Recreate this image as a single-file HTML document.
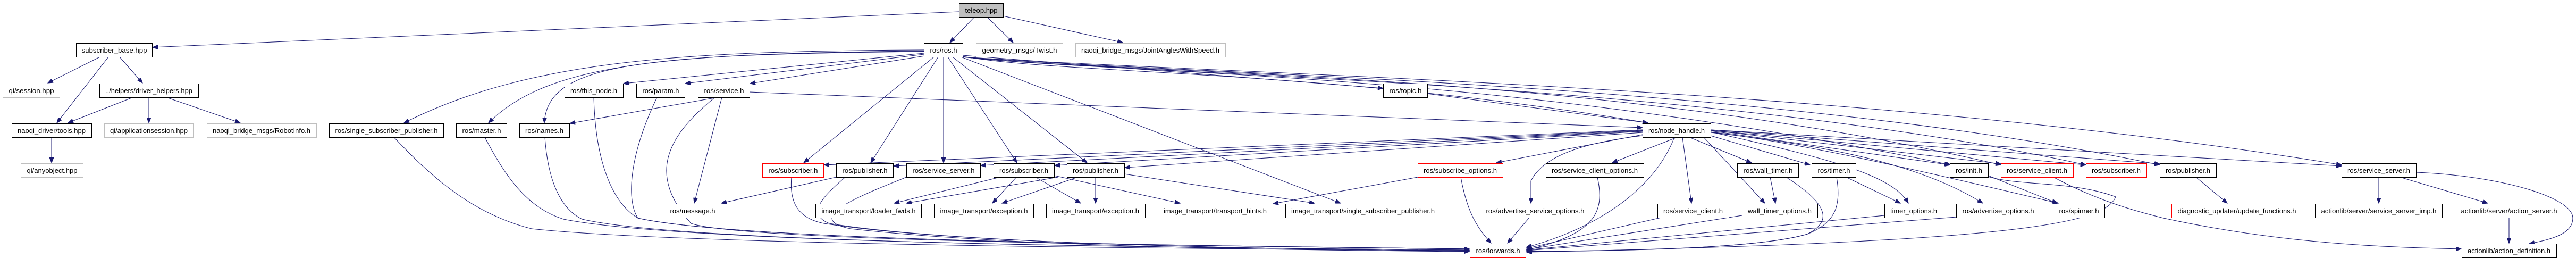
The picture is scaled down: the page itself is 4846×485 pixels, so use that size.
<!DOCTYPE html>
<html><head><meta charset="utf-8"><style>
html,body{margin:0;padding:0;background:#fff;width:4846px;height:485px;overflow:hidden}
svg{display:block}
text{font-family:"Liberation Sans",Helvetica,sans-serif;font-size:13px;fill:#000}
.n rect{fill:#fff;stroke:#000;stroke-width:1}
.g rect{fill:#fff;stroke:#bfbfbf;stroke-width:1}
.r rect{fill:#fff;stroke:#ff0000;stroke-width:1}
.e path{fill:none;stroke:#191970;stroke-width:1;marker-end:url(#a)}
</style></head><body>
<svg width="4846" height="485" viewBox="0 0 4846 485" xmlns="http://www.w3.org/2000/svg">
<defs><marker id="a" markerUnits="userSpaceOnUse" markerWidth="11" markerHeight="8" refX="10" refY="4" orient="auto"><path d="M0,0 L10,4 L0,8 z" fill="#191970" stroke="#191970"/></marker></defs>
<g class="e">
<path d="M1804,22 L287,89"/>
<path d="M1833,32 L1787,80"/>
<path d="M1857,32 L1906,80"/>
<path d="M1887,30 L2112,80"/>
<path d="M188,107 L90,156"/>
<path d="M204,107 L107,231"/>
<path d="M225,107 L268,156"/>
<path d="M250,183 L128,231"/>
<path d="M280,183 L280,231"/>
<path d="M313,183 L452,231"/>
<path d="M97,258 L97,306"/>
<path d="M1738,94 C1300,96 1000,110 760,231"/>
<path d="M1738,96 C1250,100 1030,120 919,231"/>
<path d="M1738,97 C1200,102 1030,120 1024,231"/>
<path d="M1738,100 L1173,157"/>
<path d="M1738,102 L1289,157"/>
<path d="M1740,105 L1411,157"/>
<path d="M1757,107 L1512,306"/>
<path d="M1765,107 L1638,306"/>
<path d="M1775,107 L1775,306"/>
<path d="M1783,107 L1913,306"/>
<path d="M1792,107 L2045,306"/>
<path d="M1808,107 L2522,382"/>
<path d="M1811,104 L2602,166"/>
<path d="M1811,106 C2000,140 2500,130 3100,231"/>
<path d="M1811,107 C2100,140 2800,130 3670,310"/>
<path d="M1811,107 C2100,140 3000,130 3764,310"/>
<path d="M1811,107 C2100,140 3200,150 3924,310"/>
<path d="M1811,107 C2200,140 3300,150 4063,310"/>
<path d="M1811,107 C2300,140 3500,160 4405,310"/>
<path d="M1410,173 L3090,240"/>
<path d="M1350,183 L1072,232"/>
<path d="M1358,183 L1306,382"/>
<path d="M1345,183 C1250,260 1220,330 1300,420 C1400,455 2300,462 2764,468"/>
<path d="M1117,183 C1120,300 1150,380 1200,410 C1400,455 2300,462 2764,468"/>
<path d="M1236,183 C1180,300 1180,380 1200,410 C1400,455 2300,462 2764,468"/>
<path d="M912,258 C950,330 990,390 1060,412 C1300,460 2300,466 2764,470"/>
<path d="M1025,258 C1030,330 1050,390 1095,412 C1300,460 2300,466 2764,470"/>
<path d="M741,258 C800,320 880,400 1000,430 C1300,462 2300,468 2764,471"/>
<path d="M1489,333 C1485,380 1500,410 1550,420 C1800,460 2400,468 2764,472"/>
<path d="M1590,333 C1560,360 1510,400 1560,420 C1800,460 2400,468 2764,472"/>
<path d="M1705,333 C1640,360 1500,410 1600,430 C1900,464 2400,470 2764,473"/>
<path d="M1573,333 L1357,382"/>
<path d="M1881,333 L1682,382"/>
<path d="M1912,333 L1867,382"/>
<path d="M1948,333 L2033,382"/>
<path d="M1983,330 L2220,382"/>
<path d="M1990,333 L1705,382"/>
<path d="M2027,333 L1885,382"/>
<path d="M2061,333 L2061,382"/>
<path d="M2115,327 L2473,382"/>
<path d="M2685,176 L3100,231"/>
<path d="M3090,253 L2815,306"/>
<path d="M3155,258 L3033,306"/>
<path d="M3090,255 C2960,270 2900,300 2880,340 L2880,382"/>
<path d="M3165,258 L3182,382"/>
<path d="M3150,258 C3110,360 3000,430 2871,465"/>
<path d="M3090,244 L1550,310"/>
<path d="M3090,245 L1681,312"/>
<path d="M3090,246 L1845,311"/>
<path d="M3090,247 L1984,311"/>
<path d="M3090,249 L2116,315"/>
<path d="M2667,333 L2395,383"/>
<path d="M2748,333 C2760,400 2780,430 2805,457"/>
<path d="M2877,409 L2836,457"/>
<path d="M3005,333 C3020,400 3000,440 2872,470"/>
<path d="M3125,409 L2872,467"/>
<path d="M3178,258 L3295,306"/>
<path d="M3205,258 L3320,382"/>
<path d="M3218,255 L3405,310"/>
<path d="M3218,248 C3450,300 3560,330 3590,382"/>
<path d="M3218,249 C3400,270 3600,300 3730,382"/>
<path d="M3218,248 C3400,270 3650,330 3872,382"/>
<path d="M3218,246 L3668,310"/>
<path d="M3218,245 L3764,308"/>
<path d="M3218,245 L3924,310"/>
<path d="M3218,244 L4063,308"/>
<path d="M3218,244 L4405,312"/>
<path d="M3330,333 L3340,382"/>
<path d="M3360,333 C3450,390 3440,420 3400,440 C3300,470 3000,472 2872,472"/>
<path d="M3455,333 C3465,390 3450,420 3400,440 C3300,470 3000,472 2872,473"/>
<path d="M3473,333 L3575,382"/>
<path d="M3277,405 L2872,469"/>
<path d="M3545,405 L2872,470"/>
<path d="M3680,408 L2872,471"/>
<path d="M3740,330 L3870,382"/>
<path d="M3740,332 C3800,350 3900,340 3980,370 C3960,420 3800,455 2872,474"/>
<path d="M3863,333 C3950,380 4030,400 4070,410 C4300,460 4500,465 4630,468"/>
<path d="M4131,333 L4190,382"/>
<path d="M4475,333 L4475,382"/>
<path d="M4515,333 L4680,382"/>
<path d="M4545,324 C4700,330 4840,370 4840,410 C4840,440 4800,450 4758,458"/>
<path d="M4720,409 L4720,457"/>
</g>
<g class="n"><rect x="143.5" y="81.5" width="143" height="26"/><text x="215" y="99" text-anchor="middle" textLength="123" lengthAdjust="spacingAndGlyphs">subscriber_base.hpp</text></g>
<g class="g"><rect x="5.5" y="157.5" width="107" height="26"/><text x="59" y="175" text-anchor="middle" textLength="85" lengthAdjust="spacingAndGlyphs">qi/session.hpp</text></g>
<g class="n"><rect x="187.5" y="157.5" width="186" height="26"/><text x="280" y="175" text-anchor="middle" textLength="164" lengthAdjust="spacingAndGlyphs">../helpers/driver_helpers.hpp</text></g>
<g class="n"><rect x="22.5" y="232.5" width="150" height="26"/><text x="97" y="250" text-anchor="middle" textLength="128" lengthAdjust="spacingAndGlyphs">naoqi_driver/tools.hpp</text></g>
<g class="g"><rect x="196.5" y="232.5" width="168" height="26"/><text x="280" y="250" text-anchor="middle" textLength="146" lengthAdjust="spacingAndGlyphs">qi/applicationsession.hpp</text></g>
<g class="g"><rect x="389.5" y="232.5" width="206" height="26"/><text x="492" y="250" text-anchor="middle" textLength="184" lengthAdjust="spacingAndGlyphs">naoqi_bridge_msgs/RobotInfo.h</text></g>
<g class="n"><rect x="619.5" y="232.5" width="215" height="26"/><text x="727" y="250" text-anchor="middle" textLength="193" lengthAdjust="spacingAndGlyphs">ros/single_subscriber_publisher.h</text></g>
<g class="g"><rect x="39.5" y="307.5" width="117" height="26"/><text x="98" y="325" text-anchor="middle" textLength="95" lengthAdjust="spacingAndGlyphs">qi/anyobject.hpp</text></g>
<g class="n"><rect x="1062.5" y="157.5" width="110" height="26"/><text x="1117" y="175" text-anchor="middle" textLength="88" lengthAdjust="spacingAndGlyphs">ros/this_node.h</text></g>
<g class="n"><rect x="1197.5" y="157.5" width="91" height="26"/><text x="1243" y="175" text-anchor="middle" textLength="69" lengthAdjust="spacingAndGlyphs">ros/param.h</text></g>
<g class="n"><rect x="1313.5" y="157.5" width="97" height="26"/><text x="1362" y="175" text-anchor="middle" textLength="75" lengthAdjust="spacingAndGlyphs">ros/service.h</text></g>
<g class="n"><rect x="858.5" y="232.5" width="95" height="26"/><text x="906" y="250" text-anchor="middle" textLength="73" lengthAdjust="spacingAndGlyphs">ros/master.h</text></g>
<g class="n"><rect x="977.5" y="232.5" width="94" height="26"/><text x="1024" y="250" text-anchor="middle" textLength="72" lengthAdjust="spacingAndGlyphs">ros/names.h</text></g>
<g class="r"><rect x="1434.5" y="307.5" width="115" height="26"/><text x="1492" y="325" text-anchor="middle" textLength="93" lengthAdjust="spacingAndGlyphs">ros/subscriber.h</text></g>
<g class="n"><rect x="1573.5" y="307.5" width="107" height="26"/><text x="1627" y="325" text-anchor="middle" textLength="85" lengthAdjust="spacingAndGlyphs">ros/publisher.h</text></g>
<g class="n"><rect x="1249.5" y="383.5" width="107" height="26"/><text x="1303" y="401" text-anchor="middle" textLength="85" lengthAdjust="spacingAndGlyphs">ros/message.h</text></g>
<g class="n"><rect x="1534.5" y="383.5" width="199" height="26"/><text x="1634" y="401" text-anchor="middle" textLength="177" lengthAdjust="spacingAndGlyphs">image_transport/loader_fwds.h</text></g>
<g class="n"><rect x="1804.5" y="6.5" width="83" height="26" style="fill:#bfbfbf"/><text x="1846" y="24" text-anchor="middle" textLength="61" lengthAdjust="spacingAndGlyphs">teleop.hpp</text></g>
<g class="n"><rect x="1738.5" y="81.5" width="73" height="26"/><text x="1775" y="99" text-anchor="middle" textLength="51" lengthAdjust="spacingAndGlyphs">ros/ros.h</text></g>
<g class="g"><rect x="1836.5" y="81.5" width="163" height="26"/><text x="1918" y="99" text-anchor="middle" textLength="141" lengthAdjust="spacingAndGlyphs">geometry_msgs/Twist.h</text></g>
<g class="g"><rect x="2023.5" y="81.5" width="282" height="26"/><text x="2164" y="99" text-anchor="middle" textLength="260" lengthAdjust="spacingAndGlyphs">naoqi_bridge_msgs/JointAnglesWithSpeed.h</text></g>
<g class="n"><rect x="1705.5" y="307.5" width="139" height="26"/><text x="1775" y="325" text-anchor="middle" textLength="117" lengthAdjust="spacingAndGlyphs">ros/service_server.h</text></g>
<g class="n"><rect x="1869.5" y="307.5" width="114" height="26"/><text x="1926" y="325" text-anchor="middle" textLength="92" lengthAdjust="spacingAndGlyphs">ros/subscriber.h</text></g>
<g class="n"><rect x="2007.5" y="307.5" width="108" height="26"/><text x="2061" y="325" text-anchor="middle" textLength="86" lengthAdjust="spacingAndGlyphs">ros/publisher.h</text></g>
<g class="n"><rect x="1757.5" y="383.5" width="187" height="26"/><text x="1851" y="401" text-anchor="middle" textLength="165" lengthAdjust="spacingAndGlyphs">image_transport/exception.h</text></g>
<g class="n"><rect x="1968.5" y="383.5" width="186" height="26"/><text x="2061" y="401" text-anchor="middle" textLength="164" lengthAdjust="spacingAndGlyphs">image_transport/exception.h</text></g>
<g class="n"><rect x="2178.5" y="383.5" width="216" height="26"/><text x="2286" y="401" text-anchor="middle" textLength="194" lengthAdjust="spacingAndGlyphs">image_transport/transport_hints.h</text></g>
<g class="n"><rect x="2418.5" y="383.5" width="292" height="26"/><text x="2564" y="401" text-anchor="middle" textLength="270" lengthAdjust="spacingAndGlyphs">image_transport/single_subscriber_publisher.h</text></g>
<g class="n"><rect x="2602.5" y="157.5" width="83" height="26"/><text x="2644" y="175" text-anchor="middle" textLength="61" lengthAdjust="spacingAndGlyphs">ros/topic.h</text></g>
<g class="n"><rect x="3090.5" y="232.5" width="128" height="26"/><text x="3154" y="250" text-anchor="middle" textLength="106" lengthAdjust="spacingAndGlyphs">ros/node_handle.h</text></g>
<g class="r"><rect x="2667.5" y="307.5" width="160" height="26"/><text x="2747" y="325" text-anchor="middle" textLength="138" lengthAdjust="spacingAndGlyphs">ros/subscribe_options.h</text></g>
<g class="n"><rect x="2908.5" y="307.5" width="184" height="26"/><text x="3000" y="325" text-anchor="middle" textLength="162" lengthAdjust="spacingAndGlyphs">ros/service_client_options.h</text></g>
<g class="r"><rect x="2784.5" y="383.5" width="207" height="26"/><text x="2888" y="401" text-anchor="middle" textLength="185" lengthAdjust="spacingAndGlyphs">ros/advertise_service_options.h</text></g>
<g class="n"><rect x="3118.5" y="383.5" width="134" height="26"/><text x="3185" y="401" text-anchor="middle" textLength="112" lengthAdjust="spacingAndGlyphs">ros/service_client.h</text></g>
<g class="r"><rect x="2765.5" y="458.5" width="105" height="26"/><text x="2818" y="476" text-anchor="middle" textLength="83" lengthAdjust="spacingAndGlyphs">ros/forwards.h</text></g>
<g class="n"><rect x="3268.5" y="307.5" width="115" height="26"/><text x="3326" y="325" text-anchor="middle" textLength="93" lengthAdjust="spacingAndGlyphs">ros/wall_timer.h</text></g>
<g class="n"><rect x="3408.5" y="307.5" width="83" height="26"/><text x="3450" y="325" text-anchor="middle" textLength="61" lengthAdjust="spacingAndGlyphs">ros/timer.h</text></g>
<g class="n"><rect x="3668.5" y="307.5" width="72" height="26"/><text x="3704" y="325" text-anchor="middle" textLength="50" lengthAdjust="spacingAndGlyphs">ros/init.h</text></g>
<g class="r"><rect x="3764.5" y="307.5" width="136" height="26"/><text x="3832" y="325" text-anchor="middle" textLength="114" lengthAdjust="spacingAndGlyphs">ros/service_client.h</text></g>
<g class="r"><rect x="3924.5" y="307.5" width="114" height="26"/><text x="3981" y="325" text-anchor="middle" textLength="92" lengthAdjust="spacingAndGlyphs">ros/subscriber.h</text></g>
<g class="n"><rect x="3277.5" y="383.5" width="142" height="26"/><text x="3348" y="401" text-anchor="middle" textLength="120" lengthAdjust="spacingAndGlyphs">wall_timer_options.h</text></g>
<g class="n"><rect x="3545.5" y="383.5" width="110" height="26"/><text x="3600" y="401" text-anchor="middle" textLength="88" lengthAdjust="spacingAndGlyphs">timer_options.h</text></g>
<g class="n"><rect x="3680.5" y="383.5" width="157" height="26"/><text x="3759" y="401" text-anchor="middle" textLength="135" lengthAdjust="spacingAndGlyphs">ros/advertise_options.h</text></g>
<g class="n"><rect x="3862.5" y="383.5" width="97" height="26"/><text x="3911" y="401" text-anchor="middle" textLength="75" lengthAdjust="spacingAndGlyphs">ros/spinner.h</text></g>
<g class="n"><rect x="4063.5" y="307.5" width="106" height="26"/><text x="4116" y="325" text-anchor="middle" textLength="84" lengthAdjust="spacingAndGlyphs">ros/publisher.h</text></g>
<g class="n"><rect x="4405.5" y="307.5" width="140" height="26"/><text x="4475" y="325" text-anchor="middle" textLength="118" lengthAdjust="spacingAndGlyphs">ros/service_server.h</text></g>
<g class="r"><rect x="4085.5" y="383.5" width="245" height="26"/><text x="4208" y="401" text-anchor="middle" textLength="223" lengthAdjust="spacingAndGlyphs">diagnostic_updater/update_functions.h</text></g>
<g class="n"><rect x="4355.5" y="383.5" width="239" height="26"/><text x="4475" y="401" text-anchor="middle" textLength="217" lengthAdjust="spacingAndGlyphs">actionlib/server/service_server_imp.h</text></g>
<g class="r"><rect x="4618.5" y="383.5" width="203" height="26"/><text x="4720" y="401" text-anchor="middle" textLength="181" lengthAdjust="spacingAndGlyphs">actionlib/server/action_server.h</text></g>
<g class="n"><rect x="4631.5" y="458.5" width="178" height="26"/><text x="4720" y="476" text-anchor="middle" textLength="156" lengthAdjust="spacingAndGlyphs">actionlib/action_definition.h</text></g>
</svg>
</body></html>
